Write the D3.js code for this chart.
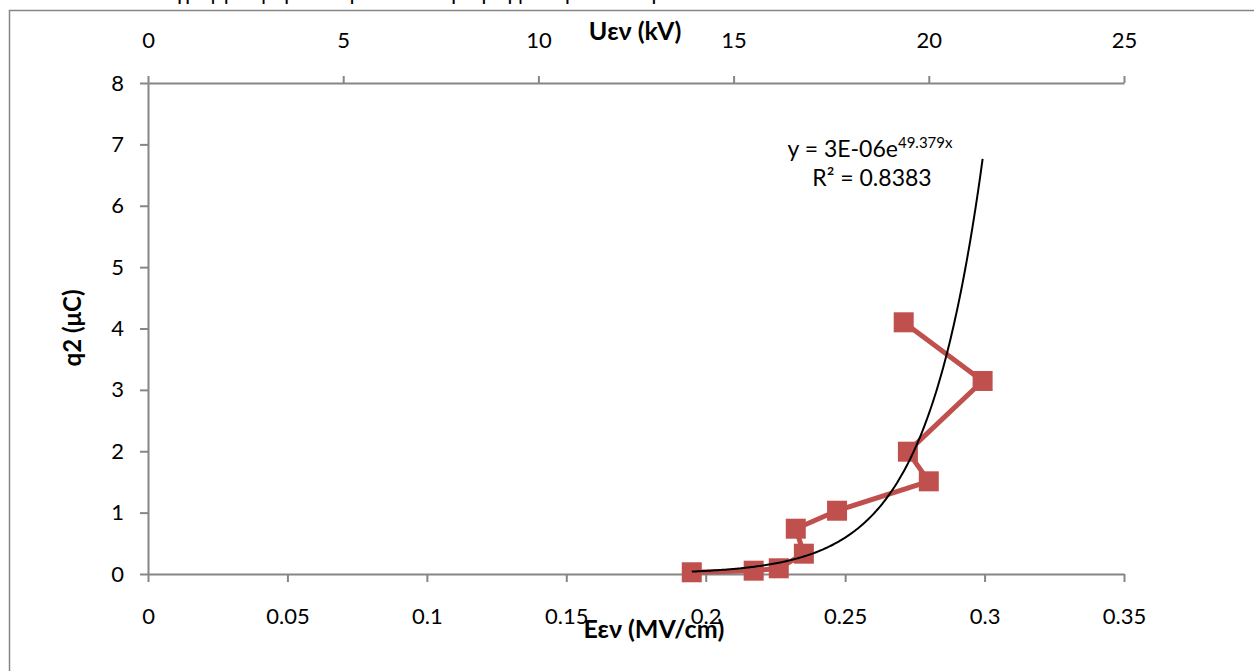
<!DOCTYPE html>
<html>
<head>
<meta charset="utf-8">
<script src="https://cdn.jsdelivr.net/npm/d3@7"></script>
<style>
  html, body { margin: 0; padding: 0; background: #fff; }
  svg { display: block; font-family: Lato, "Open Sans", sans-serif; }
</style>
</head>
<body>
<svg id="chart" width="1254" height="671"></svg>
<script>
// Field strength (MV/cm) and charge q2 (μC)
const fieldE = [0.1950, 0.2172, 0.2262, 0.2352, 0.2323, 0.2471, 0.2800, 0.2725, 0.2993, 0.2710];
const chargeQ2 = [0.028, 0.054, 0.093, 0.331, 0.738, 1.031, 1.510, 1.993, 3.145, 4.101];

// Axis ticks
const bottomTicks = [0, 0.05, 0.1, 0.15, 0.2, 0.25, 0.3, 0.35];
const topTicks = [0, 5, 10, 15, 20, 25];
const leftTicks = [0, 1, 2, 3, 4, 5, 6, 7, 8];

// Exponential trend line y = a·e^(b·x) (label shows rounded coefficient)
const trendA = 2.58e-6;
const trendB = 49.379;
const trendLabel = ["y = 3E-06e", "49.379x"];
const r2Label = "R² = 0.8383";

const svg = d3.select("#chart");
const plot = { left: 148, right: 1124, top: 83, bottom: 574 };
const axisColor = "#868686";

// Outer frame
svg.append("rect")
  .attr("x", 9.5).attr("y", 10.5)
  .attr("width", 1300).attr("height", 700)
  .attr("fill", "none").attr("stroke", axisColor).attr("stroke-width", 1.5);

// Caption line above the frame (mostly outside the page)
svg.append("text")
  .attr("x", 140).attr("y", 0)
  .attr("font-size", 22).attr("fill", "#000")
  .text("Διάγραμμα φορτίου q2 σε συνάρτηση με την ένταση του πεδίου");

const x = d3.scaleLinear().domain([0, 0.35]).range([plot.left, plot.right]);
const xTop = d3.scaleLinear().domain([0, 25]).range([plot.left, plot.right]);
const y = d3.scaleLinear().domain([0, 8]).range([plot.bottom, plot.top]);

function styleAxis(g) {
  g.select(".domain").attr("stroke", axisColor).attr("stroke-width", 2);
  g.selectAll(".tick line").attr("stroke", axisColor).attr("stroke-width", 2);
  g.selectAll(".tick text").attr("fill", "#000").attr("font-size", 22)
    .attr("font-family", "Lato, 'Open Sans', sans-serif");
}

// Bottom axis
svg.append("g")
  .attr("transform", `translate(0,${plot.bottom})`)
  .call(d3.axisBottom(x).tickValues(bottomTicks).tickSize(8).tickSizeOuter(0)
    .tickPadding(26).tickFormat(d => String(+d.toFixed(2))))
  .call(styleAxis);

// Top (secondary) axis
svg.append("g")
  .attr("transform", `translate(0,${plot.top})`)
  .call(d3.axisTop(xTop).tickValues(topTicks).tickSize(7).tickSizeOuter(0)
    .tickPadding(28).tickFormat(d3.format("d")))
  .call(styleAxis);

// Left axis
svg.append("g")
  .attr("transform", `translate(${plot.left},0)`)
  .call(d3.axisLeft(y).tickValues(leftTicks).tickSize(8).tickSizeOuter(0)
    .tickPadding(16).tickFormat(d3.format("d")))
  .call(styleAxis);

// Axis titles
svg.append("text")
  .attr("x", 654).attr("y", 638)
  .attr("text-anchor", "middle").attr("font-size", 25).attr("font-weight", "bold")
  .text("Εεν (MV/cm)");
svg.append("text")
  .attr("x", 635).attr("y", 40)
  .attr("text-anchor", "middle").attr("font-size", 25).attr("font-weight", "bold")
  .text("Uεν (kV)");
svg.append("text")
  .attr("transform", "translate(81,328) rotate(-90)")
  .attr("text-anchor", "middle").attr("font-size", 24).attr("font-weight", "bold")
  .text("q2 (μC)");

// Data series
const pts = fieldE.map((e, i) => [e, chargeQ2[i]]);
svg.append("path")
  .datum(pts)
  .attr("fill", "none").attr("stroke", "#C0504D").attr("stroke-width", 5)
  .attr("stroke-linejoin", "round")
  .attr("d", d3.line().x(d => x(d[0])).y(d => y(d[1])));

svg.append("g").selectAll("rect")
  .data(pts).join("rect")
  .attr("x", d => x(d[0]) - 10).attr("y", d => y(d[1]) - 10)
  .attr("width", 20).attr("height", 20)
  .attr("fill", "#C0504D");

// Trend curve across the data range
const xMin = d3.min(fieldE), xMax = d3.max(fieldE);
const trendPts = d3.range(0, 201).map(i => {
  const e = xMin + (xMax - xMin) * i / 200;
  return [e, trendA * Math.exp(trendB * e)];
});
svg.append("path")
  .datum(trendPts)
  .attr("fill", "none").attr("stroke", "#000").attr("stroke-width", 2)
  .attr("d", d3.line().x(d => x(d[0])).y(d => y(d[1])));

// Trend equation label
const eq = svg.append("text")
  .attr("x", 870).attr("y", 157)
  .attr("text-anchor", "middle").attr("font-size", 23);
eq.append("tspan").text(trendLabel[0]);
eq.append("tspan").attr("font-size", 15).attr("dy", -9).text(trendLabel[1]);

svg.append("text")
  .attr("x", 872).attr("y", 186)
  .attr("text-anchor", "middle").attr("font-size", 23)
  .text(r2Label);
</script>
</body>
</html>
